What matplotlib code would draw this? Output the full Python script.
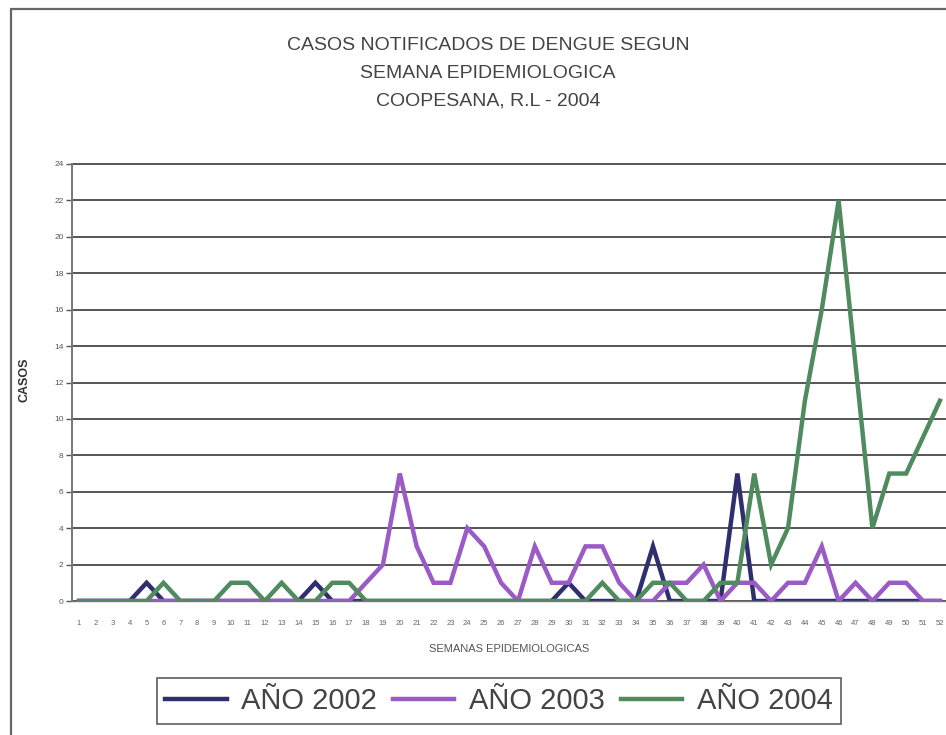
import numpy as np
import matplotlib
matplotlib.use("Agg")
import matplotlib.pyplot as plt
from matplotlib.patches import Rectangle

plt.rcParams['font.family'] = ['Liberation Sans', 'DejaVu Sans']

semanas = np.arange(1, 53)

# casos por semana
anio_2002 = [0, 0, 0, 0, 1, 0, 0, 0, 0, 0,
             0, 0, 0, 0, 1, 0, 0, 0, 0, 0,
             0, 0, 0, 0, 0, 0, 0, 0, 0, 1,
             0, 0, 0, 0, 3, 0, 0, 0, 0, 7,
             0, 0, 0, 0, 0, 0, 0, 0, 0, 0,
             0, 0]
anio_2003 = [0, 0, 0, 0, 0, 0, 0, 0, 0, 0,
             0, 0, 0, 0, 0, 0, 0, 1, 2, 7,
             3, 1, 1, 4, 3, 1, 0, 3, 1, 1,
             3, 3, 1, 0, 0, 1, 1, 2, 0, 1,
             1, 0, 1, 1, 3, 0, 1, 0, 1, 1,
             0, 0]
anio_2004 = [0, 0, 0, 0, 0, 1, 0, 0, 0, 1,
             1, 0, 1, 0, 0, 1, 1, 0, 0, 0,
             0, 0, 0, 0, 0, 0, 0, 0, 0, 0,
             0, 1, 0, 0, 1, 1, 0, 0, 1, 1,
             7, 2, 4, 11, 16, 22, 13, 4, 7, 7,
             9, 11]

series = ['AÑO 2002', 'AÑO 2003', 'AÑO 2004']
colores = ['#2f2f6e', '#9b5bc6', '#4f8b5e']

W, H = 946, 735
fig = plt.figure(figsize=(W / 100, H / 100), dpi=100)
fig.patch.set_facecolor('white')

# marco exterior
fig.patches.append(Rectangle((11 / W, -0.01), 1.0, 1 - 9 / H + 0.01,
                             transform=fig.transFigure, fill=False,
                             edgecolor='#666666', linewidth=1.6))

ax = fig.add_axes([72 / W, 1 - 601 / H, (946 - 72) / W, (601 - 164) / H])

for datos, nombre, c in zip([anio_2002, anio_2003, anio_2004], series, colores):
    ax.plot(semanas, datos, color=c, linewidth=3.2, label=nombre,
            solid_joinstyle='miter')

ax.set_xlim(0.58, 52.36)
ax.set_ylim(0, 24)
ax.set_yticks(np.arange(0, 25, 2))
ax.set_xticks(semanas)
ax.yaxis.grid(True, color='#555555', linewidth=1.4)
for gl in ax.get_ygridlines():
    gl.set_clip_on(False)
ax.set_axisbelow(True)
for s in ['top', 'right']:
    ax.spines[s].set_visible(False)
ax.spines['left'].set_color('#777777')
ax.spines['left'].set_linewidth(1.4)
ax.spines['bottom'].set_color('#777777')
ax.spines['bottom'].set_linewidth(1.0)
ax.tick_params(axis='y', labelsize=6, colors='#555555', length=4, width=1, pad=2)
ax.tick_params(axis='x', labelsize=5.5, colors='#666666', length=0, pad=14)

ax.set_ylabel('CASOS', fontsize=9, fontweight='bold', color='#333333')
ax.yaxis.set_label_coords(-0.048, 0.506)
ax.set_xlabel('SEMANAS EPIDEMIOLOGICAS', fontsize=8, color='#555555', labelpad=12)

for texto, y in [('CASOS NOTIFICADOS DE DENGUE SEGUN', 45),
                 ('SEMANA EPIDEMIOLOGICA', 73),
                 ('COOPESANA, R.L - 2004', 101)]:
    fig.text(488 / W, 1 - y / H, texto, ha='center', va='center',
             fontsize=14, color='#444444')

leg = fig.legend(loc='center', bbox_to_anchor=(499 / W, 1 - 701 / H), ncol=3,
                 fontsize=21, frameon=True, fancybox=False, handlelength=2.1,
                 handletextpad=0.5, columnspacing=0.55, borderpad=0.3,
                 borderaxespad=0)
leg.get_frame().set_edgecolor('#333333')
leg.get_frame().set_linewidth(1.2)
for t in leg.get_texts():
    t.set_color('#444444')

fig.savefig('out.png', dpi=100)
